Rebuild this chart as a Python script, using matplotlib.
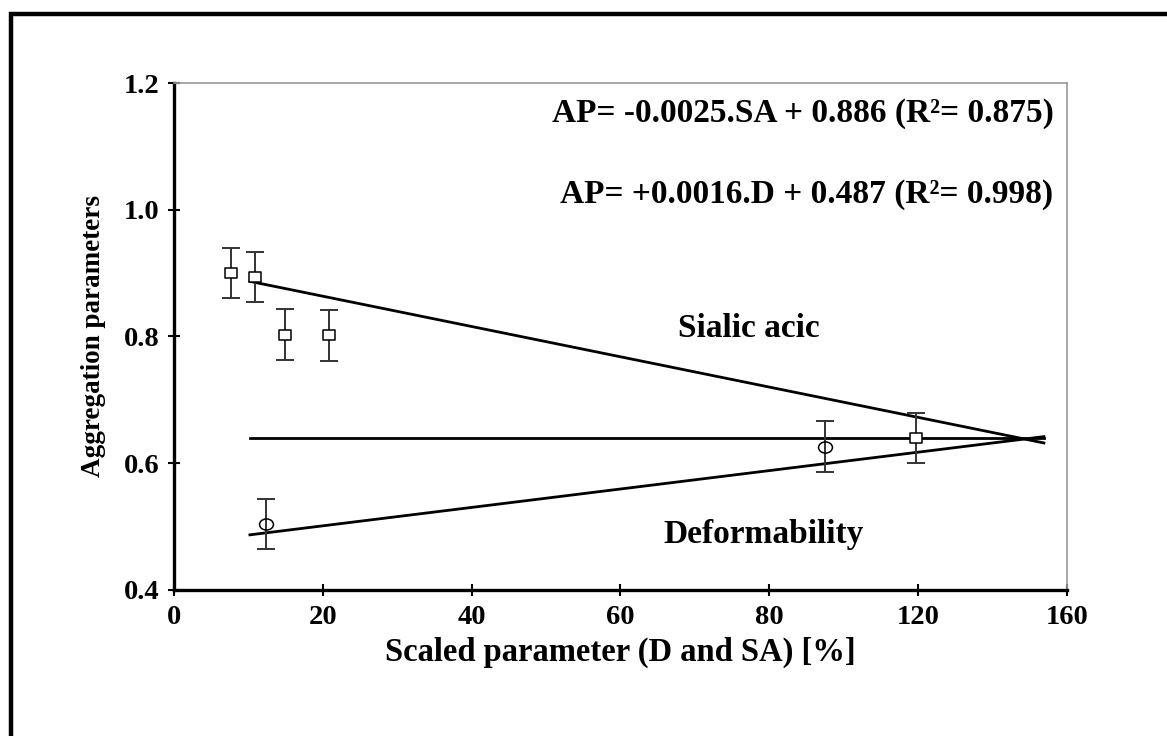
import matplotlib
matplotlib.use("Agg")
import matplotlib.pyplot as plt
from matplotlib.patches import Rectangle
from matplotlib.path import Path
from matplotlib.transforms import Affine2D

plt.rcParams['font.family'] = ['Liberation Serif', 'DejaVu Serif']
plt.rcParams['font.weight'] = 'bold'

# Sialic acid points (squares)
sa_x = [7.65, 10.9, 14.9, 20.8, 99.7]
sa_y = [0.900, 0.894, 0.803, 0.802, 0.640]
sa_err = [0.040, 0.040, 0.040, 0.040, 0.039]

# Deformability points (circles)
d_x = [12.35, 87.5]
d_y = [0.504, 0.626]
d_err = [0.040, 0.040]

# Fit lines and reference line (endpoints)
fit_x = [10.2, 116.9]
sa_fit_y = [0.887, 0.632]
d_fit_y = [0.487, 0.642]
ref_y = [0.640, 0.640]

x_ticks = [0, 20, 40, 60, 80, 100, 120]
x_tick_labels = ['0', '20', '40', '60', '80', '120', '160']
y_ticks = [0.4, 0.6, 0.8, 1.0, 1.2]
y_tick_labels = ['0.4', '0.6', '0.8', '1.0', '1.2']

fig = plt.figure(figsize=(11.67, 7.36), dpi=100)

# Outer frame (only left and top edges visible)
fig.patches.append(Rectangle((0.0096, -0.01), 1.05, 0.991, transform=fig.transFigure,
                             fill=False, edgecolor='black', linewidth=3.2))

ax = fig.add_axes([0.1491, 0.1984, 0.7652, 0.6888])

ax.plot(fit_x, sa_fit_y, color='black', linewidth=2.0)
ax.plot(fit_x, d_fit_y, color='black', linewidth=2.0)
ax.plot(fit_x, ref_y, color='black', linewidth=2.0)

# slightly wide ellipse / square markers like the original
ellipse = Path.unit_circle().transformed(Affine2D().scale(1.25, 1.0))
wide_sq = Path([(-1.15, -1), (1.15, -1), (1.15, 1), (-1.15, 1), (-1.15, -1)],
               [Path.MOVETO, Path.LINETO, Path.LINETO, Path.LINETO, Path.CLOSEPOLY])

ax.errorbar(sa_x, sa_y, yerr=sa_err, fmt='none', ecolor='#333333', elinewidth=1.4,
            capsize=6.5, capthick=1.4, zorder=3)
ax.plot(sa_x, sa_y, linestyle='none', marker=wide_sq, mfc='white', mec='black', mew=1.1,
        ms=9, zorder=4)
ax.errorbar(d_x, d_y, yerr=d_err, fmt='none', ecolor='#333333', elinewidth=1.4,
            capsize=6.5, capthick=1.4, zorder=3)
ax.plot(d_x, d_y, linestyle='none', marker=ellipse, mfc='none', mec='black', mew=1.1,
        ms=10, zorder=4)

ax.set_xlim(0, 120)
ax.set_ylim(0.4, 1.2)
ax.set_xticks(x_ticks)
ax.set_xticklabels(x_tick_labels)
ax.set_yticks(y_ticks)
ax.set_yticklabels(y_tick_labels)
ax.tick_params(direction='inout', length=9, width=1.5, labelsize=20.5, pad=6)

for side in ['left', 'bottom']:
    ax.spines[side].set_linewidth(2.4)
    ax.spines[side].set_color('black')
for side in ['top', 'right']:
    ax.spines[side].set_linewidth(1.2)
    ax.spines[side].set_color('#999999')

ax.set_xlabel('Scaled parameter (D and SA) [%]', fontsize=23.5, fontweight='bold', labelpad=5)
ax.set_ylabel('Aggregation parameters', fontsize=19.5, fontweight='bold', labelpad=13)

ax.text(0.985, 0.94, 'AP= -0.0025.SA + 0.886 (R²= 0.875)', transform=ax.transAxes,
        ha='right', va='center', fontsize=24, fontweight='bold')
ax.text(0.985, 0.78, 'AP= +0.0016.D + 0.487 (R²= 0.998)', transform=ax.transAxes,
        ha='right', va='center', fontsize=24, fontweight='bold')

ax.text(77.3, 0.812, 'Sialic acic', ha='center', va='center', fontsize=24, fontweight='bold')
ax.text(79.3, 0.488, 'Deformability', ha='center', va='center', fontsize=24, fontweight='bold')

fig.savefig('out.png', dpi=100)
